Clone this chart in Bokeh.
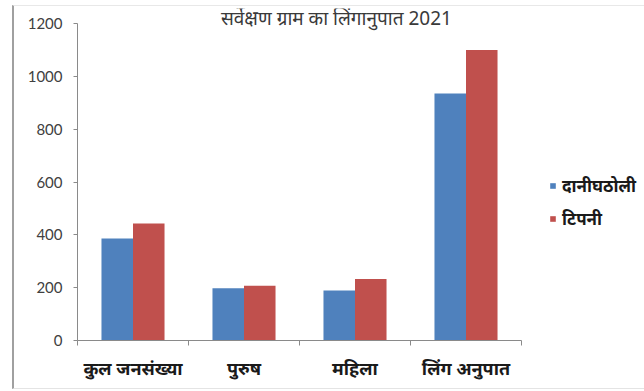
from bokeh.plotting import figure
from bokeh.models import (ColumnDataSource, Range1d, FixedTicker, Legend, LegendItem, Label)
from bokeh.embed import file_html
from bokeh.resources import INLINE

title_text = "सर्वेक्षण ग्राम का लिंगानुपात 2021"
categories = ["कुल जनसंख्या", "पुरुष", "महिला", "लिंग अनुपात"]
series_names = ["दानीघठोली", "टिपनी"]
danighatholi = [386, 198, 189, 935]
tipni = [443, 207, 233, 1100]
y_ticks = [0, 200, 400, 600, 800, 1000, 1200]

BLUE = "#4F81BD"
RED = "#C0504D"
DEV_FONT = "Noto Sans"
NUM_FONT = "Lato"

n = len(categories)
y_max = y_ticks[-1]
# frame extends beyond the axes so that title and legend are not clipped
p = figure(width=632, height=384, output_backend="svg", toolbar_location=None,
           x_range=Range1d(0, n * 567 / 444), y_range=Range1d(0, y_max * 332 / 317),
           min_border_left=63, min_border_right=2, min_border_top=2, min_border_bottom=50,
           margin=(5, 0, 2, 12))
p.styles = {"border-left": "2px solid #a0a0a0", "border-top": "1px solid #e8e8e8",
            "border-bottom": "1px solid #e4e4e4"}
p.outline_line_color = None
p.grid.visible = False
p.background_fill_color = "white"
p.border_fill_color = "white"

bw = 0.284
off = 0.142
xs = [i + 0.5 for i in range(n)]
src = ColumnDataSource(dict(
    xb=[x - off for x in xs], xr=[x + off for x in xs],
    blue=danighatholi, red=tipni))
rb = p.vbar(x="xb", top="blue", width=bw, source=src, fill_color=BLUE, line_color=None)
rr = p.vbar(x="xr", top="red", width=bw, source=src, fill_color=RED, line_color=None)

# y axis
p.yaxis.bounds = (0, y_max)
p.yaxis.ticker = FixedTicker(ticks=y_ticks)
p.yaxis.axis_line_color = "#8a8a8a"
p.yaxis.major_tick_line_color = "#8a8a8a"
p.yaxis.major_tick_out = 4
p.yaxis.major_tick_in = 0
p.yaxis.minor_tick_line_color = None
p.yaxis.major_label_text_font = NUM_FONT
p.yaxis.major_label_text_font_size = "15px"
p.yaxis.major_label_text_color = "#404040"
p.yaxis.major_label_standoff = 11

# x axis
p.xaxis.bounds = (0, n)
p.xaxis.ticker = FixedTicker(ticks=xs, minor_ticks=list(range(n + 1)))
p.xaxis.major_label_overrides = {x: c for x, c in zip(xs, categories)}
p.xaxis.axis_line_color = "#8a8a8a"
p.xaxis.major_tick_line_color = None
p.xaxis.minor_tick_line_color = "#8a8a8a"
p.xaxis.minor_tick_out = 5
p.xaxis.minor_tick_in = 0
p.xaxis.major_label_text_font = DEV_FONT
p.xaxis.major_label_text_font_size = "18px"
p.xaxis.major_label_text_font_style = "bold"
p.xaxis.major_label_text_color = "#1a1a1a"
p.xaxis.major_label_standoff = 9

# title
title = Label(x=2.333, y=1222, text=title_text, text_align="center", text_baseline="middle",
              text_font=DEV_FONT, text_font_size="19px", text_color="#3a3a3a")
p.add_layout(title)

legend = Legend(items=[LegendItem(label=series_names[0], renderers=[rb]),
                       LegendItem(label=series_names[1], renderers=[rr])],
                location=(472, 110), orientation="vertical",
                glyph_width=7, glyph_height=7, label_text_font=DEV_FONT,
                label_text_font_size="17px", label_text_font_style="bold",
                label_text_color="#1a1a1a", label_height=20, border_line_color=None,
                background_fill_alpha=0, spacing=10, padding=0, margin=0,
                label_standoff=6)
p.add_layout(legend)

open("out.html", "w").write(file_html(p, INLINE))
